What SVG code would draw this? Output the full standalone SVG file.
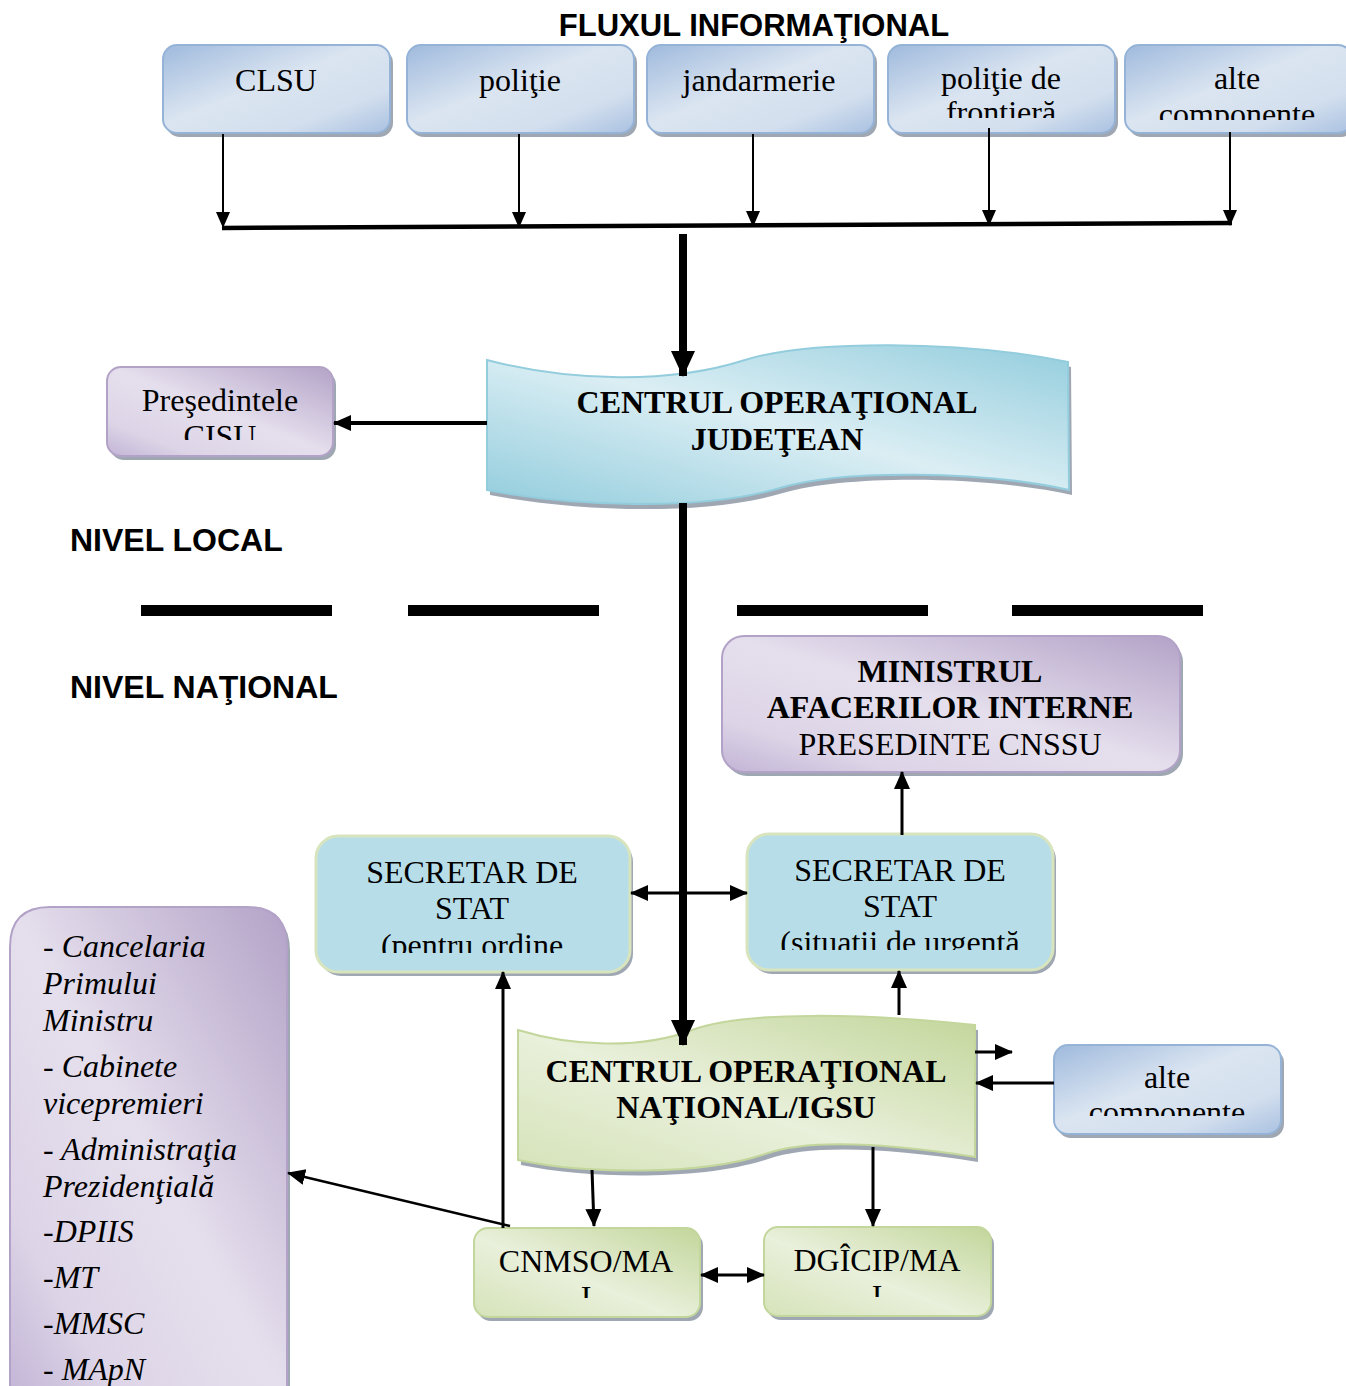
<svg xmlns="http://www.w3.org/2000/svg" xmlns:xlink="http://www.w3.org/1999/xlink" width="1346" height="1386" viewBox="0 0 1346 1386">
<defs>
<linearGradient id="gBlue" x1="0" y1="0" x2="1" y2="1">
<stop offset="0" stop-color="#9fbadd"/><stop offset="0.45" stop-color="#dbe5f1"/><stop offset="0.75" stop-color="#d3dfee"/><stop offset="1" stop-color="#a9c1e1"/>
</linearGradient>
<linearGradient id="gPurple" x1="1" y1="0" x2="0" y2="1">
<stop offset="0" stop-color="#b3a2c7"/><stop offset="0.5" stop-color="#e5dfed"/><stop offset="0.8" stop-color="#ddd5e7"/><stop offset="1" stop-color="#c2b4d6"/>
</linearGradient>
<linearGradient id="gGreen" x1="1" y1="0" x2="0" y2="1">
<stop offset="0" stop-color="#c3d69b"/><stop offset="0.55" stop-color="#e9f0db"/><stop offset="1" stop-color="#d5e3b9"/>
</linearGradient>
<linearGradient id="gCyan" x1="1" y1="0" x2="0" y2="1">
<stop offset="0" stop-color="#93cddd"/><stop offset="0.5" stop-color="#dbeef4"/><stop offset="1" stop-color="#93cddd"/>
</linearGradient>
<marker id="aThin" markerUnits="userSpaceOnUse" markerWidth="16" markerHeight="16" refX="15" refY="8" orient="auto"><path d="M0,1 L16,8 L0,15 Z" fill="#000"/></marker>
<marker id="aMed" markerUnits="userSpaceOnUse" markerWidth="18" markerHeight="18" refX="17" refY="9" orient="auto"><path d="M0,1 L18,9 L0,17 Z" fill="#000"/></marker>
<marker id="aMedS" markerUnits="userSpaceOnUse" markerWidth="18" markerHeight="18" refX="1" refY="9" orient="auto"><path d="M18,1 L0,9 L18,17 Z" fill="#000"/></marker>
<marker id="aBig" markerUnits="userSpaceOnUse" markerWidth="26" markerHeight="24" refX="25" refY="12" orient="auto"><path d="M0,0 L26,12 L0,24 Z" fill="#000"/></marker>
<clipPath id="cFront"><rect x="888" y="45" width="228" height="73"/></clipPath>
<clipPath id="cAlte1"><rect x="1125" y="45" width="221" height="75"/></clipPath>
<clipPath id="cCisu"><rect x="107" y="367" width="227" height="73"/></clipPath>
<clipPath id="cMin"><rect x="722" y="636" width="458" height="120"/></clipPath>
<clipPath id="cSecL"><rect x="316" y="836" width="314" height="117"/></clipPath>
<clipPath id="cSecR"><rect x="747" y="834" width="306" height="116"/></clipPath>
<clipPath id="cAlte2"><rect x="1054" y="1045" width="227" height="71"/></clipPath>
<clipPath id="cCn"><rect x="474" y="1228" width="226" height="70"/></clipPath>
<clipPath id="cDg"><rect x="764" y="1227" width="227" height="70"/></clipPath>
</defs>
<style>
.sh{fill:#8e98a6;opacity:0.85}
.bl{fill:url(#gBlue);stroke:#95b3d7;stroke-width:2}
.pu{fill:url(#gPurple);stroke:#b3a2c7;stroke-width:2}
.gr{fill:url(#gGreen);stroke:#c3d69b;stroke-width:2}
.cy{fill:url(#gCyan);stroke:#93cddd;stroke-width:2}
.sec{fill:#b7dee8;stroke:#d7e4bd;stroke-width:3}
.t{font-family:"Liberation Serif","Times New Roman",serif;font-size:32px;fill:#000;text-anchor:middle}
.tb{font-family:"Liberation Serif","Times New Roman",serif;font-size:32px;font-weight:bold;fill:#000;text-anchor:middle}
.ti{font-family:"Liberation Serif","Times New Roman",serif;font-size:32px;font-style:italic;fill:#000}
.h{font-family:"Liberation Sans",Arial,sans-serif;font-size:32px;font-weight:bold;fill:#000}
.c{fill:none;stroke:#000}
</style>

<text class="h" x="754" y="36" text-anchor="middle" style="font-size:31px">FLUXUL INFORMAŢIONAL</text>

<g id="clsu">
<rect class="sh" x="166" y="49" width="227" height="88" rx="14"/>
<rect class="bl" x="163" y="45" width="227" height="88" rx="14"/>
<text class="t" x="276" y="91">CLSU</text>
</g>
<g id="politie">
<rect class="sh" x="410" y="49" width="227" height="88" rx="14"/>
<rect class="bl" x="407" y="45" width="227" height="88" rx="14"/>
<text class="t" x="520" y="91">poliţie</text>
</g>
<g id="jandarmerie">
<rect class="sh" x="650" y="49" width="227" height="88" rx="14"/>
<rect class="bl" x="647" y="45" width="227" height="88" rx="14"/>
<text class="t" x="759" y="91">jandarmerie</text>
</g>
<g id="politie-frontiera">
<rect class="sh" x="891" y="49" width="227" height="88" rx="14"/>
<rect class="bl" x="888" y="45" width="227" height="88" rx="14"/>
<g clip-path="url(#cFront)">
<text class="t" x="1001" y="89">poliţie de</text>
<text class="t" x="1001" y="123">frontieră</text>
</g>
</g>
<g id="alte-componente-sus">
<rect class="sh" x="1128" y="49" width="227" height="88" rx="14"/>
<rect class="bl" x="1125" y="45" width="227" height="88" rx="14"/>
<g clip-path="url(#cAlte1)">
<text class="t" x="1237" y="89">alte</text>
<text class="t" x="1237" y="125">componente</text>
</g>
</g>

<g id="centrul-judetean">
<path class="sh" transform="translate(3,5)" d="M487,360 C570,382 670,384 745,360 C810,340 960,340 1068,362 L1069,490 C980,470 840,470 780,488 C700,512 570,506 487,490 Z"/>
<path class="cy" d="M487,360 C570,382 670,384 745,360 C810,340 960,340 1068,362 L1069,490 C980,470 840,470 780,488 C700,512 570,506 487,490 Z"/>
<text class="tb" x="777" y="413">CENTRUL OPERAŢIONAL</text>
<text class="tb" x="777" y="450">JUDEŢEAN</text>
</g>

<g id="presedintele-cisu">
<rect class="sh" x="110" y="371" width="226" height="89" rx="14"/>
<rect class="pu" x="107" y="367" width="226" height="89" rx="14"/>
<g clip-path="url(#cCisu)">
<text class="t" x="220" y="411">Preşedintele</text>
<text class="t" x="220" y="447">CISU</text>
</g>
</g>

<text class="h" x="70" y="551">NIVEL LOCAL</text>
<text class="h" x="70" y="698">NIVEL NAŢIONAL</text>

<g id="separator" fill="#000">
<rect x="141" y="605" width="191" height="11"/>
<rect x="408" y="605" width="191" height="11"/>
<rect x="737" y="605" width="191" height="11"/>
<rect x="1012" y="605" width="191" height="11"/>
</g>

<g id="ministrul">
<rect class="sh" x="725" y="640" width="458" height="136" rx="22"/>
<rect class="pu" x="722" y="636" width="458" height="136" rx="22"/>
<g clip-path="url(#cMin)">
<text class="tb" x="950" y="682">MINISTRUL</text>
<text class="tb" x="950" y="718">AFACERILOR INTERNE</text>
<text class="t" x="950" y="755">PRESEDINTE CNSSU</text>
</g>
</g>

<g id="secretar-ordine">
<rect class="sh" x="319" y="840" width="314" height="136" rx="22"/>
<rect class="sec" x="316" y="836" width="314" height="136" rx="22"/>
<g clip-path="url(#cSecL)">
<text class="t" x="472" y="883">SECRETAR DE</text>
<text class="t" x="472" y="919">STAT</text>
<text class="t" x="472" y="956">(pentru ordine</text>
</g>
</g>

<g id="secretar-urgenta">
<rect class="sh" x="750" y="838" width="306" height="136" rx="22"/>
<rect class="sec" x="747" y="834" width="306" height="136" rx="22"/>
<g clip-path="url(#cSecR)">
<text class="t" x="900" y="881">SECRETAR DE</text>
<text class="t" x="900" y="917">STAT</text>
<text class="t" x="900" y="953">(situatii de urgentă</text>
</g>
</g>

<g id="centrul-national">
<path class="sh" transform="translate(3,5)" d="M518,1030 C570,1046 640,1050 692,1030 C745,1010 870,1014 975,1025 L975,1157 C880,1142 805,1140 765,1154 C700,1176 585,1174 518,1160 Z"/>
<path class="gr" d="M518,1030 C570,1046 640,1050 692,1030 C745,1010 870,1014 975,1025 L975,1157 C880,1142 805,1140 765,1154 C700,1176 585,1174 518,1160 Z"/>
<text class="tb" x="746" y="1082">CENTRUL OPERAŢIONAL</text>
<text class="tb" x="746" y="1118">NAŢIONAL/IGSU</text>
</g>

<g id="alte-componente-jos">
<rect class="sh" x="1057" y="1049" width="227" height="89" rx="14"/>
<rect class="bl" x="1054" y="1045" width="227" height="89" rx="14"/>
<g clip-path="url(#cAlte2)">
<text class="t" x="1167" y="1088">alte</text>
<text class="t" x="1167" y="1123">componente</text>
</g>
</g>

<g id="cnmso">
<rect class="sh" x="477" y="1232" width="226" height="89" rx="14"/>
<rect class="gr" x="474" y="1228" width="226" height="89" rx="14"/>
<g clip-path="url(#cCn)">
<text class="t" x="586" y="1272">CNMSO/MA</text>
<text class="t" x="586" y="1308">I</text>
</g>
</g>

<g id="dgicip">
<rect class="sh" x="767" y="1231" width="227" height="89" rx="14"/>
<rect class="gr" x="764" y="1227" width="227" height="89" rx="14"/>
<g clip-path="url(#cDg)">
<text class="t" x="877" y="1271">DGÎCIP/MA</text>
<text class="t" x="877" y="1307">I</text>
</g>
</g>

<g id="institutii">
<path class="sh" transform="translate(3,4)" d="M50,907 L247,907 Q287,907 287,947 L287,1400 L10,1400 L10,947 Q10,907 50,907 Z"/>
<path class="pu" d="M50,907 L247,907 Q287,907 287,947 L287,1400 L10,1400 L10,947 Q10,907 50,907 Z"/>
<text class="ti" x="43" y="957">- Cancelaria</text>
<text class="ti" x="43" y="994">Primului</text>
<text class="ti" x="43" y="1031">Ministru</text>
<text class="ti" x="43" y="1077">- Cabinete</text>
<text class="ti" x="43" y="1114">vicepremieri</text>
<text class="ti" x="43" y="1160">- Administraţia</text>
<text class="ti" x="43" y="1197">Prezidenţială</text>
<text class="ti" x="43" y="1242">-DPIIS</text>
<text class="ti" x="43" y="1288">-MT</text>
<text class="ti" x="43" y="1334">-MMSC</text>
<text class="ti" x="43" y="1380">- MApN</text>
</g>

<g id="connectors">
<path class="c" stroke-width="2" marker-end="url(#aThin)" d="M223,134 L223,227"/>
<path class="c" stroke-width="2" marker-end="url(#aThin)" d="M519,134 L519,227"/>
<path class="c" stroke-width="2" marker-end="url(#aThin)" d="M753,134 L753,226"/>
<path class="c" stroke-width="2" marker-end="url(#aThin)" d="M989,128 L989,225"/>
<path class="c" stroke-width="2" marker-end="url(#aThin)" d="M1230,132 L1230,225"/>
<path class="c" stroke-width="4.5" d="M222,228 L1232,223"/>
<path class="c" stroke-width="8" marker-end="url(#aBig)" d="M683,234 L683,376"/>
<path class="c" stroke-width="4" marker-end="url(#aMed)" d="M487,423 L334,423"/>
<path class="c" stroke-width="8" marker-end="url(#aBig)" d="M683,503 L683,1045"/>
<path class="c" stroke-width="3" marker-start="url(#aMedS)" marker-end="url(#aMed)" d="M631,893 L747,893"/>
<path class="c" stroke-width="3" marker-end="url(#aMed)" d="M902,835 L902,772"/>
<path class="c" stroke-width="3" marker-end="url(#aMed)" d="M899,1015 L899,971"/>
<path class="c" stroke-width="3" marker-end="url(#aMed)" d="M503,1228 L503,972"/>
<path class="c" stroke-width="2.5" marker-end="url(#aMed)" d="M510,1226 L288,1173"/>
<path class="c" stroke-width="3" marker-end="url(#aMed)" d="M975,1052 L1012,1052"/>
<path class="c" stroke-width="3" marker-end="url(#aMed)" d="M1054,1083 L976,1083"/>
<path class="c" stroke-width="3" marker-end="url(#aMed)" d="M592,1170 L594,1226"/>
<path class="c" stroke-width="3" marker-end="url(#aMed)" d="M873,1147 L873,1226"/>
<path class="c" stroke-width="3" marker-start="url(#aMedS)" marker-end="url(#aMed)" d="M701,1275 L764,1275"/>
</g>
</svg>
